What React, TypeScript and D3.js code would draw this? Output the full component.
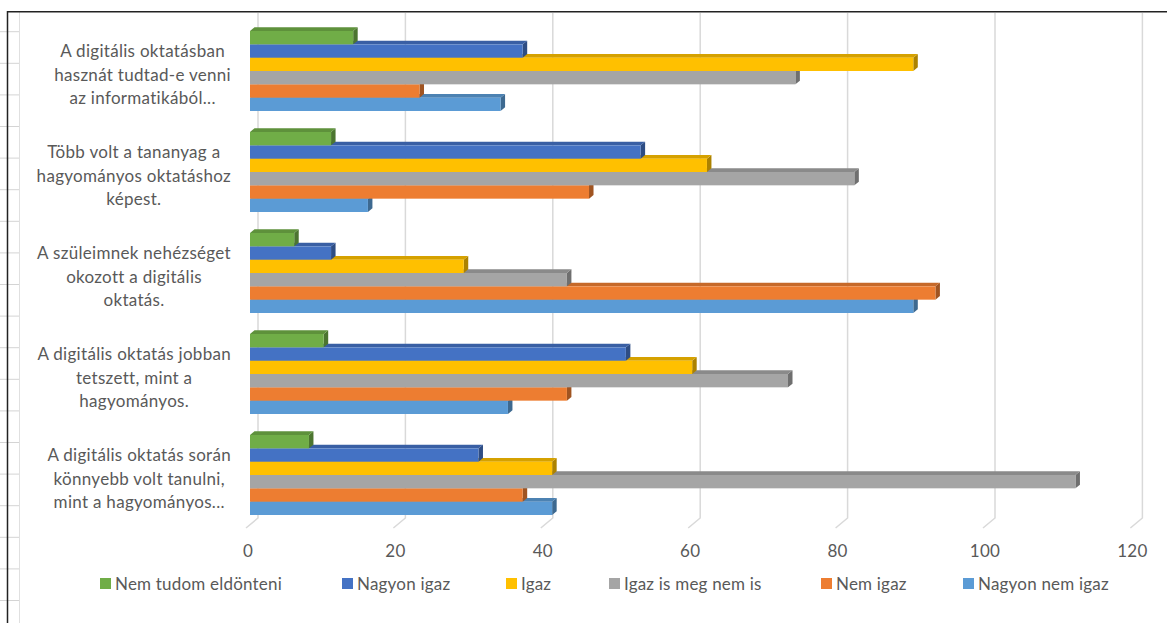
import React, { useEffect, useRef } from "react";
import * as d3 from "d3";

const categories: string[][] = [
  ["A digitális oktatásban", "hasznát tudtad-e venni", "az informatikából..."],
  ["Több volt a tananyag a", "hagyományos oktatáshoz", "képest."],
  ["A szüleimnek nehézséget", "okozott a digitális", "oktatás."],
  ["A digitális oktatás jobban", "tetszett, mint a", "hagyományos."],
  ["A digitális oktatás során", "könnyebb volt tanulni,", "mint a hagyományos..."],
];

const seriesNames = [
  "Nem tudom eldönteni",
  "Nagyon igaz",
  "Igaz",
  "Igaz is meg nem is",
  "Nem igaz",
  "Nagyon nem igaz",
];
const seriesColors = ["#70AD47", "#4472C4", "#FFC000", "#A5A5A5", "#ED7D31", "#5B9BD5"];

const nemTudom = [14, 11, 6, 10, 8];
const nagyonIgaz = [37, 53, 11, 51, 31];
const igaz = [90, 62, 29, 60, 41];
const igazIsMeg = [74, 82, 43, 73, 112];
const nemIgaz = [23, 46, 93, 43, 37];
const nagyonNemIgaz = [34, 16, 90, 35, 41];
const seriesValues = [nemTudom, nagyonIgaz, igaz, igazIsMeg, nemIgaz, nagyonNemIgaz];

const ticks = [0, 20, 40, 60, 80, 100, 120];

const legendX = [100, 342, 506, 609, 821, 963];

const W = 1167;
const H = 623;
const FONT = "Lato, 'Open Sans', sans-serif";
const TXT = "#595959";

export default function App() {
  const ref = useRef<SVGSVGElement>(null);

  useEffect(() => {
    const svg = d3.select(ref.current);
    svg.selectAll("*").remove();

    const DX = 4.5;
    const DY = 3.7;
    const xBack = d3.scaleLinear().domain([0, 120]).range([258, 258 + 7.37 * 120]);
    const xFront = d3.scaleLinear().domain([0, 120]).range([250, 250 + 7.37 * 120]);
    const idx = categories.map((_, i) => String(i));
    const y = d3.scaleBand<string>().domain(idx).range([20.5, 525.5]).paddingInner(0.208).paddingOuter(0.104);
    const ySub = d3.scaleBand<string>().domain(seriesNames).range([0, y.bandwidth()]).padding(0);

    svg.append("rect").attr("width", W).attr("height", H).attr("fill", "#fff");

    // spreadsheet remnants on the left
    const sheet = svg.append("g");
    for (let yy = 31.7; yy < H; yy += 31.6) {
      sheet.append("line").attr("x1", 0).attr("x2", 19).attr("y1", yy).attr("y2", yy)
        .attr("stroke", "#d4d4d4").attr("stroke-width", 1);
    }
    sheet.append("line").attr("x1", 19.5).attr("x2", 19.5).attr("y1", 12).attr("y2", H)
      .attr("stroke", "#e0e0e0").attr("stroke-width", 1);

    // borders
    svg.append("line").attr("x1", 7.5).attr("x2", W).attr("y1", 11.7).attr("y2", 11.7)
      .attr("stroke", "#222").attr("stroke-width", 1.5);
    svg.append("line").attr("x1", 7.5).attr("x2", 7.5).attr("y1", 11).attr("y2", H)
      .attr("stroke", "#222").attr("stroke-width", 1.5);

    // gridlines (back wall + floor diagonal)
    const grid = svg.append("g");
    ticks.forEach((t) => {
      const xb = xBack(t);
      grid.append("path")
        .attr("d", `M${xb},13 L${xb},518 L${xb - 12},528`)
        .attr("fill", "none").attr("stroke", "#D9D9D9").attr("stroke-width", 1.5);
    });

    // bars
    const bars = svg.append("g");
    categories.forEach((_, ci) => {
      const y0 = y(String(ci))!;
      for (let si = seriesNames.length - 1; si >= 0; si--) {
        const v = seriesValues[si][ci];
        const c = seriesColors[si];
        const top = y0 + ySub(seriesNames[si])!;
        const h = ySub.bandwidth();
        const x0 = xFront(0);
        const x1 = xFront(v);
        const topC = d3.color(c)!.darker(0.5).toString();
        const sideC = d3.color(c)!.darker(1.1).toString();
        bars.append("path")
          .attr("d", `M${x1},${top} L${x1 + DX},${top - DY} L${x1 + DX},${top + h - DY} L${x1},${top + h} Z`)
          .attr("fill", sideC);
        bars.append("path")
          .attr("d", `M${x0},${top} L${x0 + DX},${top - DY} L${x1 + DX},${top - DY} L${x1},${top} Z`)
          .attr("fill", topC);
        bars.append("rect").attr("x", x0).attr("y", top).attr("width", x1 - x0).attr("height", h)
          .attr("fill", c);
      }
    });

    // category labels: block right-aligned at x=230, lines centered within block
    const labels = svg.append("g").attr("font-family", FONT).attr("font-size", 17)
      .attr("letter-spacing", 0.3).attr("fill", TXT);
    categories.forEach((lines, ci) => {
      const cy = y(String(ci))! + y.bandwidth() / 2;
      const g = labels.append("g");
      const texts = lines.map((ln, li) =>
        g.append("text").text(ln).attr("y", cy + 9.5 + (li - 1) * 23.5).attr("text-anchor", "middle")
      );
      const maxW = d3.max(texts, (t) => (t.node() as SVGTextElement).getComputedTextLength()) || 0;
      texts.forEach((t) => t.attr("x", 231 - maxW / 2));
    });

    // tick labels
    const tl = svg.append("g").attr("font-family", FONT).attr("font-size", 17)
      .attr("letter-spacing", 0.3).attr("fill", TXT).attr("text-anchor", "middle");
    ticks.forEach((t) => {
      tl.append("text").attr("x", xFront(t) - 2).attr("y", 557).text(String(t));
    });

    // legend
    const lg = svg.append("g").attr("font-family", FONT).attr("font-size", 17)
      .attr("letter-spacing", 0.2).attr("fill", TXT);
    seriesNames.forEach((n, i) => {
      lg.append("rect").attr("x", legendX[i]).attr("y", 578).attr("width", 11).attr("height", 11)
        .attr("fill", seriesColors[i]);
      lg.append("text").attr("x", legendX[i] + 15).attr("y", 589.5).text(n);
    });
  }, []);

  return (
    <svg
      ref={ref}
      width={W}
      height={H}
      style={{ position: "absolute", left: 0, top: 0, display: "block" }}
    />
  );
}
